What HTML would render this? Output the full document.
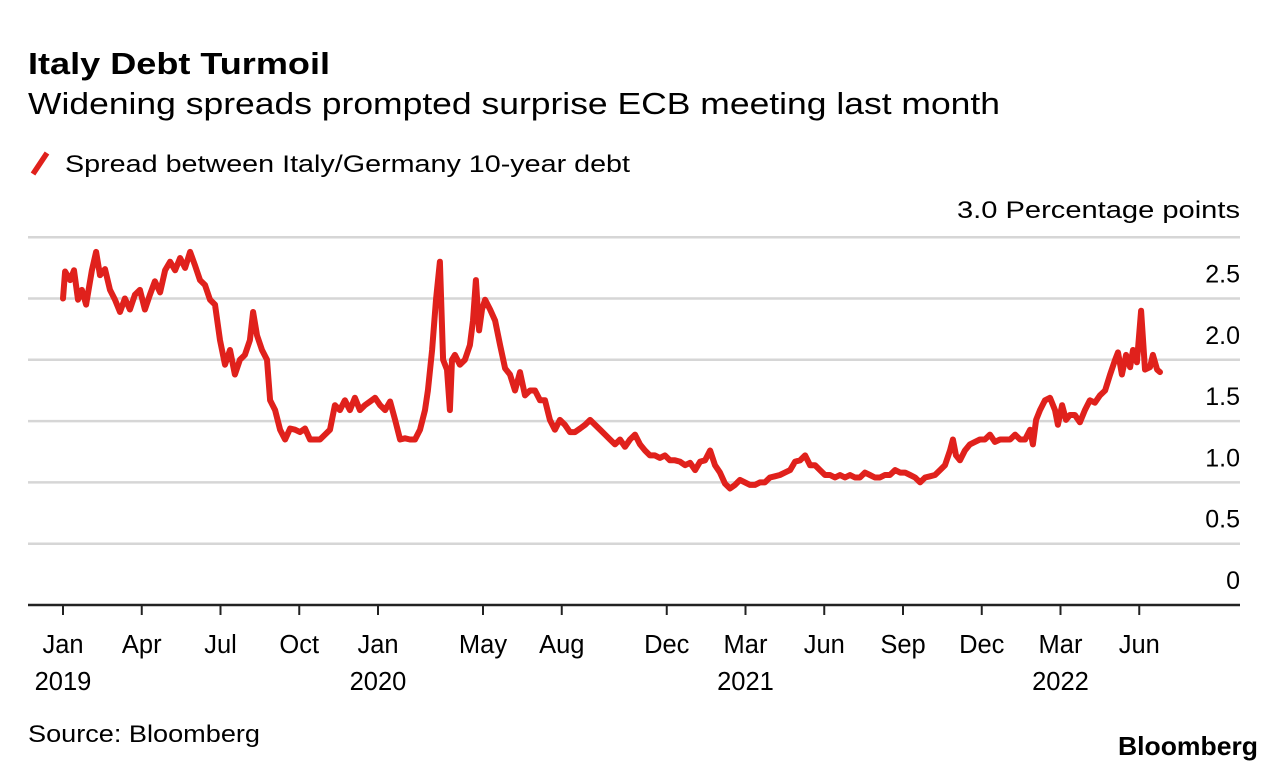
<!DOCTYPE html>
<html><head><meta charset="utf-8">
<style>
body{margin:0;background:#fff;width:1286px;height:772px;overflow:hidden;font-family:"Liberation Sans",Arial,sans-serif;color:#111}
svg{position:absolute;left:0;top:0}
</style></head>
<body>
<svg width="1286" height="772">
<text x="28" y="74" font-size="31" font-weight="bold" textLength="302" lengthAdjust="spacingAndGlyphs">Italy Debt Turmoil</text>
<text x="28" y="114" font-size="31" textLength="972" lengthAdjust="spacingAndGlyphs">Widening spreads prompted surprise ECB meeting last month</text>
<line x1="33" y1="174" x2="47" y2="153" stroke="#e0211c" stroke-width="5.5"/>
<text x="65" y="172" font-size="24.5" textLength="565" lengthAdjust="spacingAndGlyphs">Spread between Italy/Germany 10-year debt</text>
<text x="1240" y="218" font-size="24.5" text-anchor="end" textLength="283" lengthAdjust="spacingAndGlyphs">3.0 Percentage points</text>
<g id="grid"></g>
<g id="xaxis"></g>
<path id="line" fill="none" stroke="#e0211c" stroke-width="6" stroke-linejoin="round" stroke-linecap="round"/>
<text x="28" y="742" font-size="24.5" textLength="232" lengthAdjust="spacingAndGlyphs">Source: Bloomberg</text>
<text x="1258" y="755" font-size="26" font-weight="bold" text-anchor="end" textLength="140" lengthAdjust="spacingAndGlyphs">Bloomberg</text>
</svg>
<script>
const yTicks=[0,0.5,1.0,1.5,2.0,2.5];
const yTickLabels=["0","0.5","1.0","1.5","2.0","2.5"];
const xTickMonths=[0,3,6,9,12,16,19,23,26,29,32,35,38,41];
const xTickLabels=["Jan","Apr","Jul","Oct","Jan","May","Aug","Dec","Mar","Jun","Sep","Dec","Mar","Jun"];
const yearLabels=["2019","2020","2021","2022"];
const yearMonths=[0,12,26,38];
const months=[0,0.08,0.27,0.42,0.57,0.72,0.88,1.10,1.26,1.41,1.60,1.79,1.98,2.17,2.36,2.55,2.74,2.93,3.12,3.31,3.50,3.70,3.89,4.08,4.27,4.46,4.65,4.84,5.03,5.22,5.41,5.60,5.79,5.98,6.17,6.36,6.55,6.74,6.93,7.12,7.24,7.39,7.58,7.77,7.89,8.08,8.27,8.46,8.65,8.84,9.03,9.22,9.41,9.60,9.79,9.98,10.17,10.36,10.55,10.74,10.93,11.12,11.31,11.50,11.70,11.89,12.08,12.27,12.46,12.65,12.84,13.03,13.22,13.41,13.60,13.79,13.90,14.06,14.21,14.36,14.48,14.63,14.74,14.82,14.93,15.12,15.31,15.50,15.62,15.73,15.85,15.96,16.08,16.27,16.46,16.65,16.84,17.03,17.22,17.41,17.60,17.79,17.98,18.17,18.36,18.55,18.74,18.93,19.12,19.31,19.50,19.70,19.89,20.08,20.27,20.46,20.65,20.84,21.03,21.22,21.41,21.60,21.79,21.98,22.17,22.36,22.55,22.74,22.93,23.12,23.31,23.50,23.70,23.89,24.08,24.27,24.46,24.65,24.84,25.03,25.22,25.41,25.60,25.79,25.98,26.17,26.36,26.55,26.74,26.93,27.12,27.31,27.50,27.70,27.89,28.08,28.27,28.46,28.65,28.84,29.03,29.22,29.41,29.60,29.79,29.98,30.17,30.36,30.55,30.74,30.93,31.12,31.31,31.50,31.70,31.89,32.08,32.27,32.46,32.65,32.84,33.03,33.22,33.41,33.60,33.79,33.90,34.02,34.17,34.36,34.55,34.74,34.93,35.12,35.31,35.50,35.70,35.89,36.08,36.27,36.46,36.65,36.84,36.95,37.07,37.22,37.41,37.60,37.79,37.90,38.06,38.21,38.36,38.55,38.74,38.93,39.12,39.31,39.50,39.70,39.89,40.08,40.19,40.34,40.50,40.65,40.76,40.91,41.07,41.22,41.41,41.52,41.68,41.79];
const spread=[2.50,2.72,2.65,2.73,2.49,2.57,2.45,2.73,2.88,2.69,2.74,2.57,2.49,2.39,2.50,2.41,2.53,2.57,2.41,2.53,2.64,2.55,2.73,2.80,2.73,2.83,2.75,2.88,2.77,2.65,2.61,2.49,2.45,2.16,1.96,2.08,1.88,2.00,2.04,2.16,2.39,2.20,2.08,2.00,1.67,1.59,1.43,1.35,1.44,1.43,1.41,1.44,1.35,1.35,1.35,1.39,1.43,1.63,1.59,1.67,1.59,1.69,1.59,1.63,1.66,1.69,1.63,1.59,1.66,1.51,1.35,1.36,1.35,1.35,1.43,1.59,1.75,2.08,2.49,2.80,2.00,1.92,1.59,2.00,2.04,1.96,2.00,2.12,2.32,2.65,2.24,2.41,2.49,2.41,2.32,2.12,1.93,1.88,1.75,1.90,1.71,1.75,1.75,1.67,1.67,1.51,1.43,1.51,1.47,1.41,1.41,1.44,1.47,1.51,1.47,1.43,1.39,1.35,1.31,1.35,1.29,1.35,1.39,1.31,1.26,1.22,1.22,1.20,1.22,1.18,1.18,1.17,1.14,1.16,1.10,1.17,1.18,1.26,1.14,1.08,0.99,0.95,0.98,1.02,1.00,0.98,0.98,1.00,1.00,1.04,1.05,1.06,1.08,1.10,1.17,1.18,1.22,1.14,1.14,1.10,1.06,1.06,1.04,1.06,1.04,1.06,1.04,1.04,1.08,1.06,1.04,1.04,1.06,1.06,1.10,1.08,1.08,1.06,1.04,1.00,1.04,1.05,1.06,1.10,1.14,1.26,1.35,1.22,1.18,1.26,1.31,1.33,1.35,1.35,1.39,1.33,1.35,1.35,1.35,1.39,1.35,1.35,1.43,1.31,1.51,1.59,1.67,1.69,1.59,1.47,1.63,1.51,1.55,1.55,1.49,1.59,1.67,1.65,1.71,1.75,1.88,2.00,2.06,1.88,2.04,1.94,2.08,1.98,2.40,1.92,1.94,2.04,1.92,1.90];

const NS="http://www.w3.org/2000/svg";
const xS=m=>63+m*26.25;
const yS=v=>605-v*122.6;
const grid=document.getElementById('grid');
[...yTicks,3.0].forEach((v,i)=>{
  const l=document.createElementNS(NS,'line');
  l.setAttribute('x1',28);l.setAttribute('x2',1240);
  l.setAttribute('y1',yS(v));l.setAttribute('y2',yS(v));
  l.setAttribute('stroke',v===0?'#222':'#d6d6d6');l.setAttribute('stroke-width',2.5);
  
  
  grid.appendChild(l);
  if(i<yTickLabels.length){
    const t=document.createElementNS(NS,'text');
    t.setAttribute('x',1240);t.setAttribute('y',yS(v)-16);
    t.setAttribute('text-anchor','end');t.setAttribute('font-size','25');
    t.textContent=yTickLabels[i];
    
    
    grid.appendChild(t);
  }
});
const xa=document.getElementById('xaxis');
xTickMonths.forEach((m,i)=>{
  const l=document.createElementNS(NS,'line');
  l.setAttribute('x1',xS(m));l.setAttribute('x2',xS(m));
  l.setAttribute('y1',605);l.setAttribute('y2',615);
  l.setAttribute('stroke','#222');l.setAttribute('stroke-width',2);
  
  
  xa.appendChild(l);
  const t=document.createElementNS(NS,'text');
  t.setAttribute('x',xS(m));t.setAttribute('y',653);
  t.setAttribute('text-anchor','middle');t.setAttribute('font-size','25.5');
  t.textContent=xTickLabels[i];
  
  
  xa.appendChild(t);
});
yearMonths.forEach((m,i)=>{
  const t=document.createElementNS(NS,'text');
  t.setAttribute('x',xS(m));t.setAttribute('y',690);
  t.setAttribute('text-anchor','middle');t.setAttribute('font-size','25.5');
  t.textContent=yearLabels[i];
  
  
  xa.appendChild(t);
});
document.getElementById('line').setAttribute('d',months.map((m,i)=>(i?'L':'M')+xS(m).toFixed(1)+' '+yS(spread[i]).toFixed(1)).join(' '));
</script>
</body></html>
